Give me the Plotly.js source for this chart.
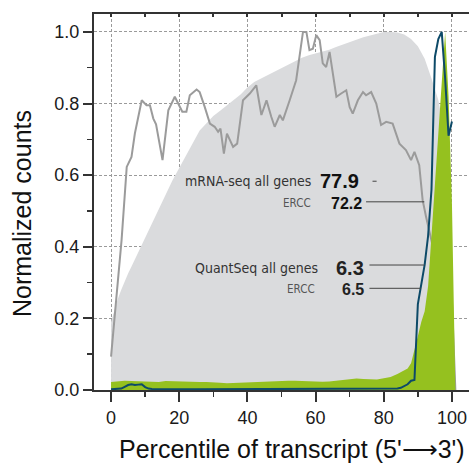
<!DOCTYPE html>
<html>
<head>
<meta charset="utf-8">
<script src="https://cdn.plot.ly/plotly-3.0.1.min.js"></script>
<style>html,body{margin:0;padding:0;background:#fff;}#chart{width:471px;height:465px;}</style>
</head>
<body>
<div id="chart"></div>
<script>
// mRNA-seq, all genes (gray area)
const mrnaAllX = [0,1,2,3,4,5,6,7,8,9,10,12,14,16,18,20,22,24,26,28,30,32,34,36,38,40,42,44,46,48,50,52,54,56,58,60,62,64,66,68,70,72,74,76,78,80,82,84,86,88,90,92,94,96,97,98,99,100,101];
const mrnaAllY = [0.19,0.225,0.255,0.28,0.305,0.325,0.345,0.365,0.385,0.405,0.425,0.465,0.505,0.545,0.585,0.62,0.655,0.69,0.725,0.745,0.765,0.78,0.795,0.81,0.825,0.845,0.86,0.87,0.88,0.89,0.9,0.91,0.92,0.928,0.935,0.94,0.945,0.95,0.958,0.965,0.972,0.98,0.985,0.99,0.995,1.0,1.0,0.998,0.993,0.98,0.96,0.925,0.87,0.81,0.76,0.7,0.58,0.35,0];

// mRNA-seq, ERCC (gray line)
const mrnaErccX = [0,3.1,4.6,6.0,7.0,9.0,10.4,11.4,12.4,13.2,15.1,16.8,18.7,20.9,22.1,23.1,25.1,26.0,27.5,29.0,30.4,31.4,32.1,33.1,34.0,35.8,37.0,38.7,40.7,42.6,44.1,45.6,47.0,48.0,49.5,50.4,52.4,54.3,56.3,57.3,58.2,59.2,60.2,61.2,62.1,63.1,64.1,66.1,67.5,69.0,70.0,70.9,72.4,73.9,74.8,76.3,77.8,79.2,80.7,82.6,84.6,86.5,88.0,89.0,90.4,91.4,92.4,94.4,96,98,100,101];
const mrnaErccY = [0.093,0.42,0.623,0.651,0.717,0.809,0.795,0.795,0.758,0.742,0.642,0.781,0.819,0.777,0.777,0.823,0.839,0.832,0.79,0.744,0.735,0.721,0.73,0.66,0.716,0.679,0.688,0.809,0.828,0.851,0.768,0.809,0.763,0.735,0.768,0.753,0.809,0.865,1.0,1.0,0.949,0.953,0.991,0.977,0.912,0.902,0.944,0.819,0.828,0.837,0.79,0.772,0.809,0.832,0.823,0.832,0.80,0.74,0.749,0.744,0.688,0.67,0.642,0.665,0.628,0.53,0.484,0.40,0.36,0.32,0.25,0];

// QuantSeq, all genes (green area)
const quantAllX = [0,2,4,6,8,10,12,14,16,18,20,22,24,26,28,30,32,34,36,38,40,42,44,46,48,50,52,54,56,58,60,62,64,66,68,70,72,74,76,78,80,82,84,85,86,87,88,89,90,91,92,93,94,95,96,97,98,99,100,101];
const quantAllY = [0.022,0.024,0.026,0.025,0.024,0.023,0.022,0.022,0.025,0.024,0.023,0.024,0.023,0.022,0.022,0.02,0.02,0.019,0.02,0.021,0.022,0.022,0.023,0.023,0.024,0.025,0.026,0.026,0.025,0.024,0.023,0.023,0.024,0.026,0.028,0.03,0.032,0.031,0.03,0.029,0.033,0.036,0.045,0.05,0.055,0.06,0.075,0.11,0.15,0.19,0.22,0.29,0.43,0.56,0.70,0.86,1.0,0.82,0.52,0];

// QuantSeq, ERCC (dark blue line)
const quantErccX = [0,2,3,4,5,6,7,8,9,10,11,12,16,20,25,30,35,40,45,50,55,60,65,70,75,80,84,85,86,87,88,89,90,91,92,93,94,95,96,97,98,99,100];
const quantErccY = [0.002,0.002,0.004,0.009,0.014,0.016,0.014,0.015,0.016,0.008,0.004,0.003,0.002,0.002,0.002,0.002,0.002,0.002,0.002,0.002,0.002,0.003,0.003,0.002,0.002,0.003,0.004,0.006,0.01,0.016,0.026,0.028,0.24,0.29,0.35,0.43,0.56,0.93,0.98,1.0,0.87,0.71,0.75];

const labelFont = "Liberation Sans Narrow, DejaVu Sans Condensed, Liberation Sans, sans-serif";
const numFont = "Liberation Sans, Arial, sans-serif";

const traces = [
  {x: mrnaAllX, y: mrnaAllY, type: 'scatter', mode: 'lines', fill: 'tozeroy',
   fillcolor: '#dadbdd', line: {width: 0, color: '#dadbdd'}, hoverinfo: 'skip', showlegend: false},
  {x: mrnaErccX, y: mrnaErccY, type: 'scatter', mode: 'lines',
   line: {width: 2, color: '#9b9b9b'}, hoverinfo: 'skip', showlegend: false},
  {x: quantAllX, y: quantAllY, type: 'scatter', mode: 'lines', fill: 'tozeroy',
   fillcolor: '#95c11f', line: {width: 0, color: '#95c11f'}, hoverinfo: 'skip', showlegend: false},
  {x: quantErccX, y: quantErccY, type: 'scatter', mode: 'lines',
   line: {width: 2, color: '#0d4a68'}, hoverinfo: 'skip', showlegend: false},
  {x: [], y: [], xaxis: 'x2', type: 'scatter', mode: 'lines', showlegend: false, hoverinfo: 'skip'}
];

const lineCol = '#444';
const layout = {
  width: 471, height: 465,
  margin: {l: 94, r: 2, t: 14, b: 75, pad: 0},
  paper_bgcolor: '#fff', plot_bgcolor: '#fff',
  showlegend: false,
  xaxis: {
    range: [-5, 105], tick0: 0, dtick: 20,
    ticks: 'outside', ticklen: 10, tickwidth: 2, tickcolor: '#333',
    showline: true, linecolor: '#333', linewidth: 2,
    showgrid: true, gridcolor: '#9a9a9a', gridwidth: 1, griddash: '3px,2px',
    zeroline: false,
    tickfont: {family: numFont, size: 18, color: '#1a1a1a'},
    minor: {dtick: 10, tick0: 0, ticks: 'outside', ticklen: 5, tickwidth: 1.5, tickcolor: '#333', showgrid: false}
  },
  xaxis2: {
    overlaying: 'x', side: 'top', anchor: 'y', range: [-5, 105], tick0: 0, dtick: 10,
    ticks: 'inside', ticklen: 3, tickwidth: 2, tickcolor: '#333',
    showline: true, linecolor: '#333', linewidth: 2,
    showgrid: false, zeroline: false, showticklabels: false
  },
  yaxis: {
    range: [0, 1.05], tick0: 0, dtick: 0.2, tickformat: '.1f',
    ticks: 'outside', ticklen: 9, tickwidth: 2, tickcolor: '#333',
    showline: true, linecolor: '#333', linewidth: 2,
    showgrid: true, gridcolor: '#9a9a9a', gridwidth: 1, griddash: '3px,2px',
    zeroline: false,
    tickfont: {family: numFont, size: 18, color: '#1a1a1a'},
    minor: {dtick: 0.1, tick0: 0, ticks: 'outside', ticklen: 5, tickwidth: 1.5, tickcolor: '#333', showgrid: false}
  },
  shapes: [
    {type: 'line', xref: 'x', yref: 'y', x0: 76.7, x1: 77.9, y0: 0.583, y1: 0.583, line: {color: lineCol, width: 1}},
    {type: 'line', xref: 'x', yref: 'y', x0: 74.8, x1: 91.9, y0: 0.5255, y1: 0.5255, line: {color: lineCol, width: 1}},
    {type: 'line', xref: 'x', yref: 'y', x0: 75.8, x1: 91.9, y0: 0.349, y1: 0.349, line: {color: lineCol, width: 1}},
    {type: 'line', xref: 'x', yref: 'y', x0: 75.8, x1: 90.9, y0: 0.284, y1: 0.284, line: {color: lineCol, width: 1}}
  ],
  annotations: [
    {xref: 'x', yref: 'y', x: 59.3, y: 0.583, xanchor: 'right', yanchor: 'middle', showarrow: false,
     text: 'mRNA-seq all genes', font: {family: labelFont, size: 14, color: '#333'}},
    {xref: 'x', yref: 'y', x: 60.6, y: 0.583, xanchor: 'left', yanchor: 'middle', showarrow: false,
     text: '<b>77.9</b>', font: {family: numFont, size: 20, color: '#111'}},
    {xref: 'x', yref: 'y', x: 59.3, y: 0.522, xanchor: 'right', yanchor: 'middle', showarrow: false,
     text: 'ERCC', font: {family: labelFont, size: 11.5, color: '#555'}},
    {xref: 'x', yref: 'y', x: 63.8, y: 0.522, xanchor: 'left', yanchor: 'middle', showarrow: false,
     text: '<b>72.2</b>', font: {family: numFont, size: 16, color: '#111'}},
    {xref: 'x', yref: 'y', x: 61.2, y: 0.3405, xanchor: 'right', yanchor: 'middle', showarrow: false,
     text: 'QuantSeq all genes', font: {family: labelFont, size: 14, color: '#333'}},
    {xref: 'x', yref: 'y', x: 65.4, y: 0.3405, xanchor: 'left', yanchor: 'middle', showarrow: false,
     text: '<b>6.3</b>', font: {family: numFont, size: 20, color: '#222'}},
    {xref: 'x', yref: 'y', x: 60.5, y: 0.282, xanchor: 'right', yanchor: 'middle', showarrow: false,
     text: 'ERCC', font: {family: labelFont, size: 11.5, color: '#555'}},
    {xref: 'x', yref: 'y', x: 67.2, y: 0.282, xanchor: 'left', yanchor: 'middle', showarrow: false,
     text: '<b>6.5</b>', font: {family: numFont, size: 16, color: '#222'}},
    {xref: 'paper', yref: 'paper', x: -0.192, y: 0.468, xanchor: 'center', yanchor: 'middle', showarrow: false,
     textangle: -90, text: 'Normalized counts', font: {family: numFont, size: 25, color: '#111'}},
    {xref: 'paper', yref: 'paper', x: 0.527, y: -0.157, xanchor: 'center', yanchor: 'middle', showarrow: false,
     text: "Percentile of transcript (5'\u27F63')", font: {family: numFont, size: 25, color: '#111'}}
  ]
};

Plotly.newPlot('chart', traces, layout, {displayModeBar: false, staticPlot: true});
</script>
</body>
</html>
